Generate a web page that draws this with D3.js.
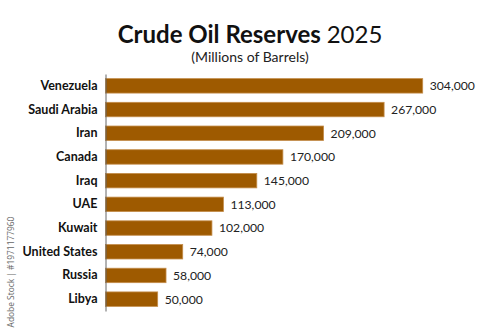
<!DOCTYPE html>
<html>
<head>
<meta charset="utf-8">
<script src="https://cdn.jsdelivr.net/npm/d3@7"></script>
<style>
  html, body { margin: 0; padding: 0; background: #fff; }
  svg { display: block; }
</style>
</head>
<body>
<svg id="chart" width="500" height="334"></svg>
<script>
// Proven crude oil reserves by country, millions of barrels
const countries = ["Venezuela", "Saudi Arabia", "Iran", "Canada", "Iraq", "UAE", "Kuwait", "United States", "Russia", "Libya"];
const reserves = [304000, 267000, 209000, 170000, 145000, 113000, 102000, 74000, 58000, 50000];

const data = countries.map((c, i) => ({ country: c, value: reserves[i] }));

const svg = d3.select("#chart");
const W = 500, H = 334;
const font = "Lato, 'Open Sans', sans-serif";

const x = d3.scaleLinear().domain([0, 304000]).range([105.5, 422.7]);
const y = d3.scaleBand().domain(countries).range([74, 311]).paddingInner(0.39).paddingOuter(0.195);

// Title
const title = svg.append("text")
  .attr("x", W / 2).attr("y", 43)
  .attr("text-anchor", "middle")
  .attr("font-family", font)
  .attr("font-size", 24)
  .attr("fill", "#111");
title.append("tspan").attr("font-weight", 700).text("Crude Oil Reserves ");
title.append("tspan").attr("font-weight", 400).text("2025");

svg.append("text")
  .attr("x", W / 2).attr("y", 61.5)
  .attr("text-anchor", "middle")
  .attr("font-family", font)
  .attr("font-size", 14)
  .attr("fill", "#222")
  .text("(Millions of Barrels)");

// Bars
svg.append("g").selectAll("rect")
  .data(data).join("rect")
  .attr("x", x(0))
  .attr("y", d => y(d.country))
  .attr("width", d => x(d.value) - x(0))
  .attr("height", y.bandwidth())
  .attr("fill", "#9e5a00")
  .attr("stroke", "#c48d4a")
  .attr("stroke-width", 0.8);

// Category axis (line only, labels drawn by the axis)
const yAxis = d3.axisLeft(y).tickSize(0).tickPadding(8);
const gy = svg.append("g").attr("transform", `translate(${x(0)},0)`).call(yAxis);
gy.select(".domain").attr("stroke", "#666").attr("stroke-width", 1);
gy.selectAll("text")
  .attr("font-family", font)
  .attr("font-size", 12.5)
  .attr("font-weight", 700)
  .attr("fill", "#111");

// Value labels
const fmt = d3.format(",");
svg.append("g").selectAll("text")
  .data(data).join("text")
  .attr("x", d => x(d.value) + 7)
  .attr("y", d => y(d.country) + y.bandwidth() / 2)
  .attr("dy", "0.36em")
  .attr("font-family", font)
  .attr("font-size", 12.2)
  .attr("fill", "#222")
  .text(d => fmt(d.value));

// Stock credit along the left edge
svg.append("text")
  .attr("transform", "translate(14,272) rotate(-90)")
  .attr("text-anchor", "middle")
  .attr("font-family", "'Open Sans', sans-serif")
  .attr("font-size", 8.4)
  .attr("fill", "#666")
  .text("Adobe Stock | #1971177960");
</script>
</body>
</html>
